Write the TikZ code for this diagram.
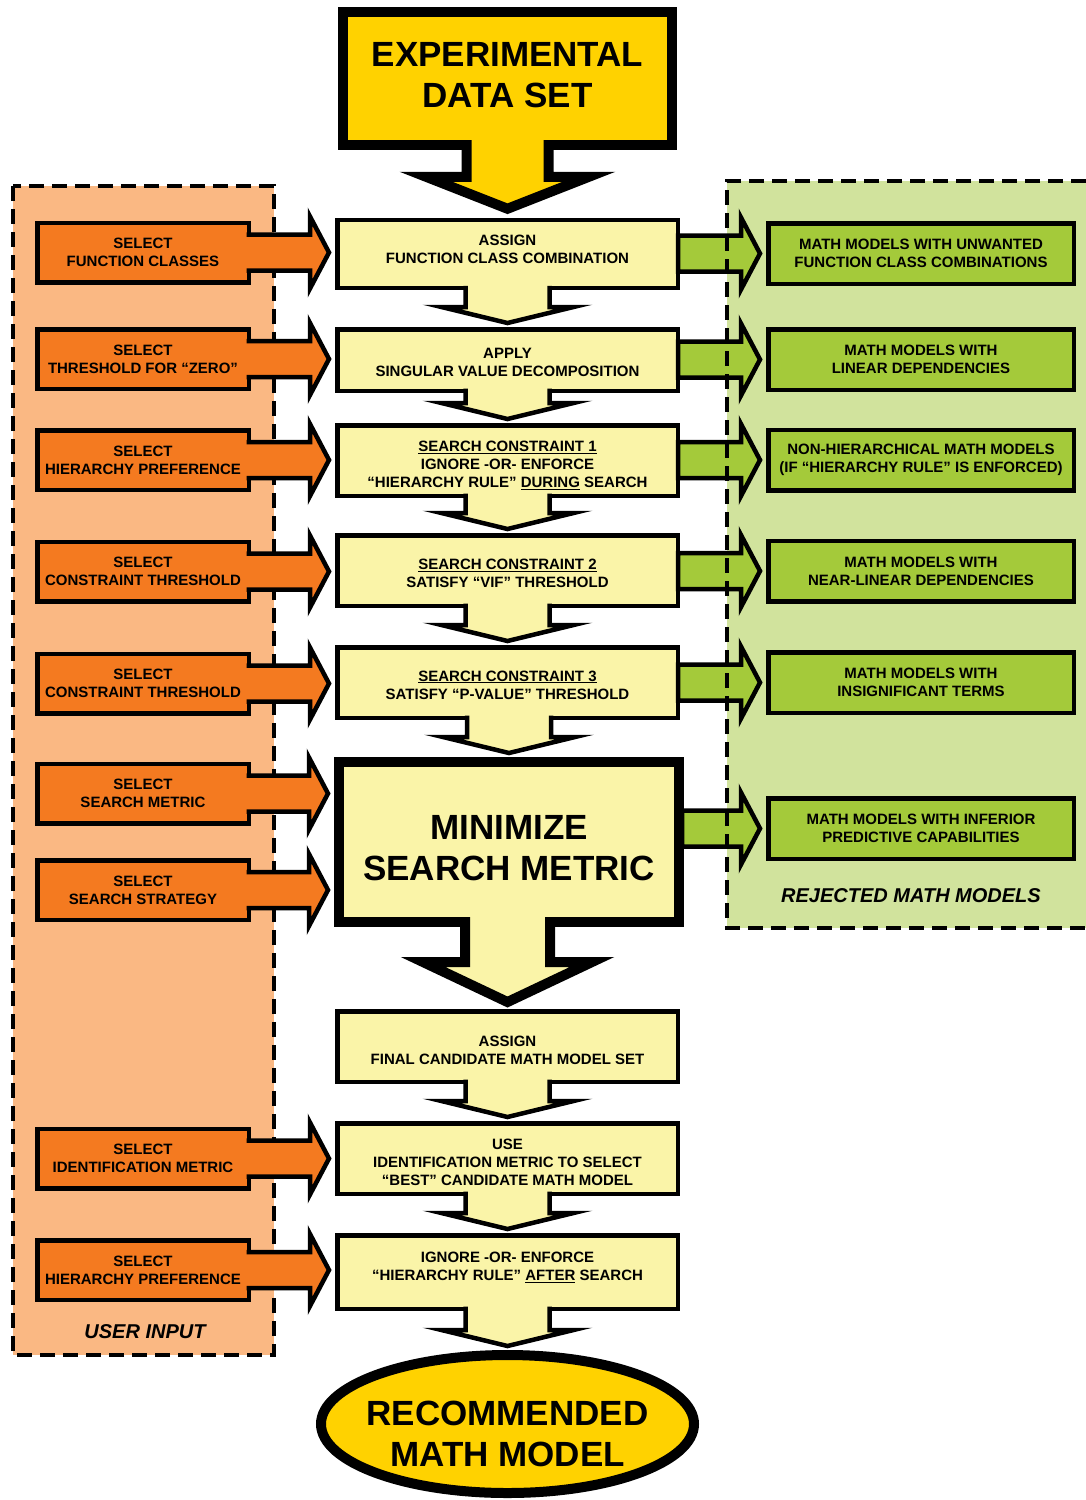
\documentclass[tikz,border=0pt]{standalone}
\usepackage{fontspec}
\setmainfont{Liberation Sans}
\usepackage{tikz}
\usetikzlibrary{calc}
\usetikzlibrary{shapes.geometric}
\definecolor{data-gold}{HTML}{FFD200}
\definecolor{step-yellow}{HTML}{FAF4A8}
\definecolor{input-orange}{HTML}{F47A20}
\definecolor{input-panel}{HTML}{FAB883}
\definecolor{reject-green}{HTML}{A4CA3A}
\definecolor{reject-panel}{HTML}{D1E39D}

\tikzset{panel border/.style={line width=3.5pt, dash pattern=on 15pt off 8pt}}

% centred lines of text, moved up or down inside a box
\newcommand{\boxtext}[2]{\raisebox{#1}[0pt][0pt]{\begin{tabular}{@{}c@{}}#2\end{tabular}}}

% block arrow pointing down, merged into the box above
\newcommand{\blockdown}[7]{%
    \fill[#7] let \p1=(#1.south), \p2=(#2.north) in
        (\x2-#3,\y1+\pgflinewidth+0.3pt) -- (\x2-#3,\y2+#5) -- (\x2-#4,\y2+#5) -- (\x2,\y2+#6)
        -- (\x2+#4,\y2+#5) -- (\x2+#3,\y2+#5) -- (\x2+#3,\y1+\pgflinewidth+0.3pt) -- cycle;
    \draw let \p1=(#1.south), \p2=(#2.north) in
        (\x2-#3,\y1+\pgflinewidth) -- (\x2-#3,\y2+#5) -- (\x2-#4,\y2+#5) -- (\x2,\y2+#6)
        -- (\x2+#4,\y2+#5) -- (\x2+#3,\y2+#5) -- (\x2+#3,\y1+\pgflinewidth);}

% user input arrow, merged into the orange box
\newcommand{\inputarrow}[2]{%
    \fill[input-orange] let \p1=(#1.east), \p2=(#2.west) in
        (\x1-\pgflinewidth-0.3pt,\y1+18pt) -- (\x2-25pt,\y1+18pt) -- (\x2-25pt,\y1+36pt) -- (\x2-6pt,\y1)
        -- (\x2-25pt,\y1-36pt) -- (\x2-25pt,\y1-18pt) -- (\x1-\pgflinewidth-0.3pt,\y1-18pt) -- cycle;
    \draw let \p1=(#1.east), \p2=(#2.west) in
        (\x1-\pgflinewidth,\y1+18pt) -- (\x2-25pt,\y1+18pt) -- (\x2-25pt,\y1+36pt) -- (\x2-6pt,\y1)
        -- (\x2-25pt,\y1-36pt) -- (\x2-25pt,\y1-18pt) -- (\x1-\pgflinewidth,\y1-18pt);}

% rejected models arrow
\newcommand{\rejectarrow}[2]{%
    \filldraw[fill=reject-green] let \p1=(#1.east), \p2=(#2.west) in
        (\x1-2pt,\y2+18pt) -- (\x2-25pt,\y2+18pt) -- (\x2-25pt,\y2+36pt) -- (\x2-6pt,\y2)
        -- (\x2-25pt,\y2-36pt) -- (\x2-25pt,\y2-18pt) -- (\x1-2pt,\y2-18pt) -- cycle;}

\begin{document}
\begin{tikzpicture}[x=1pt, y=-1pt, line join=miter]

    \useasboundingbox (0,0) rectangle (1086,1500);

    % panels
    \fill[input-panel] (13,186) rectangle (274,1355);
    \draw[panel border] (13,186) rectangle (274,1355);
    \fill[reject-panel] (727,181) rectangle (1086,928);

    % big boxes
    \begin{scope}[every node/.style={draw, line width=10pt, inner sep=0pt, align=center,
                                     font=\fontsize{35}{41}\selectfont\bfseries}]
        \node[fill=data-gold, minimum width=329pt, minimum height=133pt] (data) at (507.5,78.5)
            {\boxtext{-7pt}{EXPERIMENTAL\\DATA SET}};
        \node[fill=step-yellow, minimum width=340pt, minimum height=160pt] (minimize) at (509,842)
            {\boxtext{-16pt}{MINIMIZE\\SEARCH METRIC}};
        \node[ellipse, fill=data-gold, minimum width=373pt, minimum height=138pt] (model) at (507.5,1424)
            {\makebox[0pt]{\boxtext{-20.5pt}{RECOMMENDED\\MATH MODEL}}};
    \end{scope}

    % process steps
    \begin{scope}[every node/.style={draw, line width=4.5pt, fill=step-yellow, inner sep=0pt, align=center,
                                     minimum width=340.5pt, minimum height=70.5pt,
                                     font=\fontsize{15}{18}\selectfont\bfseries}]
        \node[minimum height=68pt] (assign) at (507.5,254) {\boxtext{0pt}{ASSIGN\\FUNCTION CLASS COMBINATION}};
        \node[minimum height=61.5pt] (svd) at (507.5,360) {\boxtext{-7.5pt}{APPLY\\SINGULAR VALUE DECOMPOSITION}};
        \node (sc1) at (507.5,460.5)
            {\boxtext{-9pt}{\underline{SEARCH CONSTRAINT 1}\\IGNORE -OR- ENFORCE\\“HIERARCHY RULE” \underline{DURING} SEARCH}};
        \node (sc2) at (507.5,570.5) {\boxtext{-8pt}{\underline{SEARCH CONSTRAINT 2}\\SATISFY “VIF” THRESHOLD}};
        \node (sc3) at (507.5,682.5) {\boxtext{-7.5pt}{\underline{SEARCH CONSTRAINT 3}\\SATISFY “P-VALUE” THRESHOLD}};
        \node (final) at (507.5,1046.5) {\boxtext{-8.5pt}{ASSIGN\\FINAL CANDIDATE MATH MODEL SET}};
        \node (best) at (507.5,1158.5)
            {\boxtext{-8.5pt}{USE\\IDENTIFICATION METRIC TO SELECT\\“BEST” CANDIDATE MATH MODEL}};
        \node[minimum height=73.5pt] (after) at (507.5,1272)
            {\boxtext{0.5pt}{IGNORE -OR- ENFORCE\\“HIERARCHY RULE” \underline{AFTER} SEARCH}};
    \end{scope}

    % user input
    \begin{scope}[every node/.style={draw, line width=4.5pt, fill=input-orange, inner sep=0pt, align=center,
                                     minimum width=211.5pt, minimum height=59.5pt,
                                     font=\fontsize{15}{18}\selectfont\bfseries}]
        \node (selclass) at (143,252.5) {SELECT\\FUNCTION CLASSES};
        \node (selzero) at (143,359) {SELECT\\THRESHOLD FOR “ZERO”};
        \node (selhier) at (143,460) {SELECT\\HIERARCHY PREFERENCE};
        \node (selvif) at (143,571.5) {SELECT\\CONSTRAINT THRESHOLD};
        \node (selpval) at (143,683.5) {SELECT\\CONSTRAINT THRESHOLD};
        \node (selmetric) at (143,793.5) {SELECT\\SEARCH METRIC};
        \node (selstrategy) at (143,890) {SELECT\\SEARCH STRATEGY};
        \node (selident) at (143,1158.5) {SELECT\\IDENTIFICATION METRIC};
        \node (selafter) at (143,1270) {SELECT\\HIERARCHY PREFERENCE};
    \end{scope}

    % rejected math models
    \begin{scope}[every node/.style={draw, line width=4.5pt, fill=reject-green, inner sep=0pt, align=center,
                                     minimum width=305.5pt, minimum height=60.5pt,
                                     font=\fontsize{15}{18}\selectfont\bfseries}]
        \node (rejclass) at (921,253.5) {MATH MODELS WITH UNWANTED\\FUNCTION CLASS COMBINATIONS};
        \node (rejlinear) at (921,359.5) {MATH MODELS WITH\\LINEAR DEPENDENCIES};
        \node (rejhier) at (921,460) {NON-HIERARCHICAL MATH MODELS\\(IF “HIERARCHY RULE” IS ENFORCED)};
        \node (rejnear) at (921,571) {MATH MODELS WITH\\NEAR-LINEAR DEPENDENCIES};
        \node (rejterms) at (921,682.5) {MATH MODELS WITH\\INSIGNIFICANT TERMS};
        \node (rejinferior) at (921,828.5) {MATH MODELS WITH INFERIOR\\PREDICTIVE CAPABILITIES};
    \end{scope}

    % flow arrows
    \begin{scope}[line width=10pt]
        \blockdown{data}{assign}{41pt}{81.5pt}{41pt}{9pt}{data-gold}
        \blockdown{minimize}{final}{42.5pt}{84.5pt}{47pt}{7pt}{step-yellow}
    \end{scope}
    \begin{scope}[line width=4.5pt]
        \blockdown{assign}{svd}{42pt}{66pt}{20pt}{4pt}{step-yellow}
        \blockdown{svd}{sc1}{42pt}{66pt}{20pt}{4pt}{step-yellow}
        \blockdown{sc1}{sc2}{42pt}{66pt}{20pt}{4pt}{step-yellow}
        \blockdown{sc2}{sc3}{42pt}{66pt}{20pt}{4pt}{step-yellow}
        \blockdown{sc3}{minimize}{42pt}{66pt}{20pt}{4pt}{step-yellow}
        \blockdown{final}{best}{42pt}{66pt}{20pt}{4pt}{step-yellow}
        \blockdown{best}{after}{42pt}{66pt}{20pt}{4pt}{step-yellow}
        \blockdown{after}{model}{42pt}{66pt}{20pt}{4pt}{step-yellow}

        % input arrows
        \inputarrow{selclass}{assign}
        \inputarrow{selzero}{svd}
        \inputarrow{selhier}{sc1}
        \inputarrow{selvif}{sc2}
        \inputarrow{selpval}{sc3}
        \inputarrow{selmetric}{minimize}
        \inputarrow{selstrategy}{minimize}
        \inputarrow{selident}{best}
        \inputarrow{selafter}{after}

        % reject arrows
        \rejectarrow{assign}{rejclass}
        \rejectarrow{svd}{rejlinear}
        \rejectarrow{sc1}{rejhier}
        \rejectarrow{sc2}{rejnear}
        \rejectarrow{sc3}{rejterms}
        \rejectarrow{minimize}{rejinferior}
    \end{scope}

    \draw[panel border] (1086,181) -- (727,181) -- (727,928) -- (1086,928);

    % panel titles
    \begin{scope}[every node/.style={font=\fontsize{20}{24}\selectfont\bfseries\itshape}]
        \node (userinput) at (145,1332) {USER INPUT};
        \node (rejected) at (911,896) {REJECTED MATH MODELS};
    \end{scope}

\end{tikzpicture}
\end{document}
